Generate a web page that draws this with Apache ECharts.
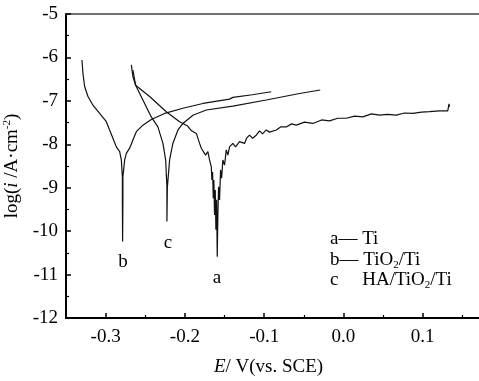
<!DOCTYPE html>
<html>
<head>
<meta charset="utf-8">
<script src="https://cdn.jsdelivr.net/npm/echarts@6/dist/echarts.min.js"></script>
<style>
  html, body { margin: 0; padding: 0; background: #fff; }
  #chart { width: 479px; height: 381px; }
</style>
</head>
<body>
<div id="chart"></div>
<script>
// a — Ti 极化曲线
const tiE = [-0.2656, -0.2622, -0.2445, -0.2235, -0.2067, -0.1966, -0.1916, -0.1856, -0.1815, -0.1793,
  -0.1773, -0.1739, -0.1710, -0.1689, -0.1667, -0.1660, -0.1651, -0.1642, -0.1635, -0.1626,
  -0.1617, -0.1609, -0.1600, -0.1592, -0.1584, -0.1575, -0.1563, -0.1550, -0.1537, -0.1521,
  -0.1500, -0.1478, -0.1458, -0.1437, -0.1395, -0.1361, -0.1311, -0.1248, -0.1222, -0.1185,
  -0.1147, -0.1100, -0.1058, -0.1021, -0.0974, -0.0932, -0.0848, -0.0793, -0.0721, -0.0654,
  -0.0595, -0.0491, -0.0386, -0.0276, -0.0175, -0.0074, 0.0035, 0.0140, 0.0245, 0.0354,
  0.0455, 0.0556, 0.0666, 0.0770, 0.0875, 0.0985, 0.1086, 0.1212, 0.1316, 0.1331, 0.1338];
const tiLog = [-6.29, -6.64, -6.90, -7.25, -7.48, -7.58, -7.69, -7.75, -7.98, -8.09,
  -8.06, -8.25, -8.17, -8.36, -8.52, -8.82, -8.64, -9.24, -8.82, -9.63,
  -9.05, -9.97, -9.28, -10.59, -9.63, -8.98, -9.28, -8.59, -8.78, -8.36,
  -8.48, -8.13, -8.25, -8.06, -7.98, -8.06, -7.94, -7.98, -7.86, -7.79,
  -7.86, -7.79, -7.69, -7.76, -7.67, -7.72, -7.67, -7.60, -7.60, -7.53,
  -7.56, -7.49, -7.52, -7.44, -7.46, -7.40, -7.40, -7.35, -7.37, -7.30,
  -7.33, -7.31, -7.33, -7.28, -7.29, -7.26, -7.25, -7.23, -7.23, -7.07, -7.14];

// b — TiO2/Ti
const tio2E = [-0.3299, -0.3286, -0.3265, -0.3223, -0.3160, -0.3076, -0.2991, -0.2950, -0.2908, -0.2865,
  -0.2823, -0.2802, -0.2789, -0.2789, -0.2786, -0.2782, -0.2782, -0.2760, -0.2739, -0.2697,
  -0.2656, -0.2613, -0.2530, -0.2424, -0.2256, -0.2025, -0.1773, -0.1437, -0.1395, -0.1150, -0.0911];
const tio2Log = [-6.06, -6.37, -6.67, -6.90, -7.10, -7.29, -7.48, -7.67, -7.86, -8.06,
  -8.17, -8.36, -8.75, -9.28, -10.24, -9.28, -8.75, -8.36, -8.21, -8.09,
  -7.90, -7.71, -7.56, -7.43, -7.29, -7.17, -7.06, -6.96, -6.92, -6.86, -6.79];

// c — HA/TiO2/Ti
const haE = [-0.2676, -0.2656, -0.2622, -0.2530, -0.2424, -0.2341, -0.2277, -0.2243, -0.2227, -0.2227,
  -0.2221, -0.2193, -0.2152, -0.2088, -0.2025, -0.1899, -0.1731, -0.1395, -0.0974, -0.0554, -0.0293];
const haLog = [-6.17, -6.44, -6.64, -6.98, -7.37, -7.60, -7.98, -8.36, -8.98, -9.78,
  -8.98, -8.36, -7.98, -7.67, -7.52, -7.33, -7.21, -7.12, -6.98, -6.83, -6.75];

// 刻度
const xMajorTicks = [-0.3, -0.2, -0.1, 0.0, 0.1];
const xMinorTicks = [-0.25, -0.15, -0.05, 0.05, 0.15];

const FONT = "'Liberation Serif', 'Times New Roman', serif";

const chartInstance = echarts.init(document.getElementById('chart'), null, { renderer: 'canvas' });

function pairs(xs, ys) {
  return xs.map((x, i) => [x, ys[i]]);
}

function curve(name, data) {
  return {
    name: name,
    type: 'line',
    data: data,
    showSymbol: false,
    smooth: false,
    animation: false,
    lineStyle: { color: '#111', width: 1.2 },
  };
}

const XMIN = -0.35;
const XMAX = 0.171;

const supSub = {
  i: { fontFamily: FONT, fontSize: 19, fontStyle: 'italic', color: '#000', lineHeight: 22 },
  sup: { fontFamily: FONT, fontSize: 11, color: '#000', lineHeight: 11, verticalAlign: 'top' },
  sub: { fontFamily: FONT, fontSize: 11, color: '#000', lineHeight: 11, verticalAlign: 'bottom' },
  t: { fontFamily: FONT, fontSize: 19, color: '#000', lineHeight: 22 },
};

const option = {
  backgroundColor: '#fff',
  animation: false,
  grid: { left: 66, top: 14, right: 0, bottom: 63, containLabel: false, outerBoundsMode: 'none' },
  xAxis: [
    {
      type: 'value',
      min: XMIN,
      max: XMAX,
      position: 'bottom',
      axisLine: { show: true, lineStyle: { color: '#000', width: 2 } },
      axisTick: { show: true, inside: true, length: 5, lineStyle: { color: '#000', width: 1.5 }, customValues: xMajorTicks },
      axisLabel: {
        customValues: xMajorTicks,
        formatter: (v) => v.toFixed(1),
        fontFamily: FONT, fontSize: 19, color: '#000', margin: 10,
      },
      splitLine: { show: false },
      name: '{i|E}{t|/ V(vs. SCE)}',
      nameLocation: 'middle',
      nameGap: 38,
      nameTextStyle: { rich: supSub, padding: [0, 0, 0, -8] },
    },
    {
      // 次刻度
      type: 'value',
      min: XMIN,
      max: XMAX,
      position: 'bottom',
      axisLine: { show: false },
      axisTick: { show: true, inside: true, length: 3, lineStyle: { color: '#000', width: 1.2 }, customValues: xMinorTicks },
      axisLabel: { show: false },
      splitLine: { show: false },
    },
    {
      // 顶部边框
      type: 'value',
      min: XMIN,
      max: XMAX,
      position: 'top',
      axisLine: { show: true, lineStyle: { color: '#444', width: 1.5 } },
      axisTick: { show: false },
      axisLabel: { show: false },
      splitLine: { show: false },
    },
  ],
  yAxis: {
    type: 'value',
    min: -12,
    max: -5,
    interval: 1,
    axisLine: { show: true, onZero: false, lineStyle: { color: '#000', width: 2 } },
    axisTick: { show: true, inside: true, length: 5, lineStyle: { color: '#000', width: 1.5 } },
    minorTick: { show: true, splitNumber: 2, length: 3, lineStyle: { color: '#000', width: 1.2 } },
    axisLabel: { fontFamily: FONT, fontSize: 19, color: '#000', margin: 8 },
    splitLine: { show: false },
    name: '{t|log(}{i|i}{t| /A·cm}{sup|-2}{t|)}',
    nameLocation: 'middle',
    nameGap: 39,
    nameTextStyle: { rich: supSub },
  },
  series: [
    curve('Ti', pairs(tiE, tiLog)),
    curve('TiO2/Ti', pairs(tio2E, tio2Log)),
    curve('HA/TiO2/Ti', pairs(haE, haLog)),
  ],
  graphic: [
    // 曲线标注
    { type: 'text', x: 123, y: 262, style: { text: 'b', font: '19px ' + FONT, fill: '#000', align: 'center', verticalAlign: 'middle' } },
    { type: 'text', x: 168, y: 243, style: { text: 'c', font: '19px ' + FONT, fill: '#000', align: 'center', verticalAlign: 'middle' } },
    { type: 'text', x: 217, y: 278, style: { text: 'a', font: '19px ' + FONT, fill: '#000', align: 'center', verticalAlign: 'middle' } },
    // 图例
    { type: 'text', x: 330, y: 228, style: { text: '{t|a— Ti}', rich: supSub } },
    { type: 'text', x: 330, y: 249, style: { text: '{t|b— TiO}{sub|2}{t|/Ti}', rich: supSub } },
    { type: 'text', x: 330, y: 269, style: { text: '{t|c     HA/TiO}{sub|2}{t|/Ti}', rich: supSub } },
  ],
};

chartInstance.setOption(option);
</script>
</body>
</html>
